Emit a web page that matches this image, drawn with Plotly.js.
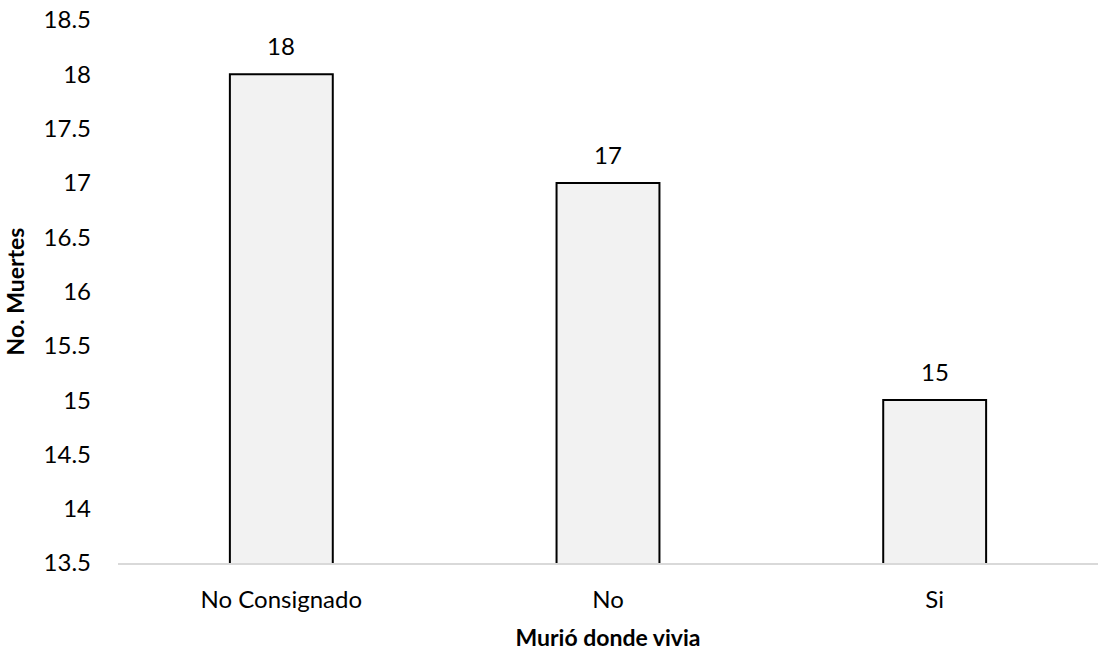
<!DOCTYPE html>
<html>
<head>
<meta charset="utf-8">
<script src="https://cdn.plot.ly/plotly-3.0.1.min.js"></script>
<style>html,body{margin:0;padding:0;background:#fff;}#chart{width:1098px;height:653px;}</style>
</head>
<body>
<div id="chart"></div>
<script>
const categories = ["No Consignado", "No", "Si"];
const muertes = [18, 17, 15];
const yTickVals = [13.5, 14, 14.5, 15, 15.5, 16, 16.5, 17, 17.5, 18, 18.5];
const yTickText = ["13.5", "14", "14.5", "15", "15.5", "16", "16.5", "17", "17.5", "18", "18.5"];

const FONT = "Lato, 'Open Sans', sans-serif";
const FS = 24;

const trace = {
  type: "bar",
  x: categories,
  y: muertes,
  width: 0.315,
  marker: { color: "#f2f2f2", line: { color: "#000000", width: 2 } },
  cliponaxis: true,
  hoverinfo: "skip"
};

const annotations = categories.map((c, i) => ({
  x: c,
  y: muertes[i],
  xref: "x",
  yref: "y",
  text: String(muertes[i]),
  showarrow: false,
  yanchor: "bottom",
  yshift: 12,
  font: { family: FONT, size: FS, color: "#000" }
}));

const layout = {
  width: 1098,
  height: 653,
  margin: { l: 118, r: 0, t: 20, b: 90 },
  paper_bgcolor: "#fff",
  plot_bgcolor: "#fff",
  showlegend: false,
  font: { family: FONT, size: FS, color: "#000" },
  annotations: annotations,
  xaxis: {
    type: "category",
    showgrid: false,
    zeroline: false,
    showline: true,
    linecolor: "#d9d9d9",
    linewidth: 2,
    ticks: "",
    ticklabelstandoff: 14,
    tickfont: { family: FONT, size: FS, color: "#000" },
    title: { text: "Murió donde vivia", font: { family: FONT, size: 23, color: "#000", weight: "bold" }, standoff: 18 }
  },
  yaxis: {
    range: [13.5, 18.5],
    tickvals: yTickVals,
    ticktext: yTickText,
    showgrid: false,
    zeroline: false,
    showline: false,
    ticks: "",
    ticklabelstandoff: 26,
    tickfont: { family: FONT, size: FS, color: "#000" },
    title: { text: "No. Muertes", font: { family: FONT, size: 23, color: "#000", weight: "bold" }, standoff: 12 }
  },
  bargap: 0.685
};

Plotly.newPlot("chart", [trace], layout, { staticPlot: true, displayModeBar: false });
</script>
</body>
</html>
